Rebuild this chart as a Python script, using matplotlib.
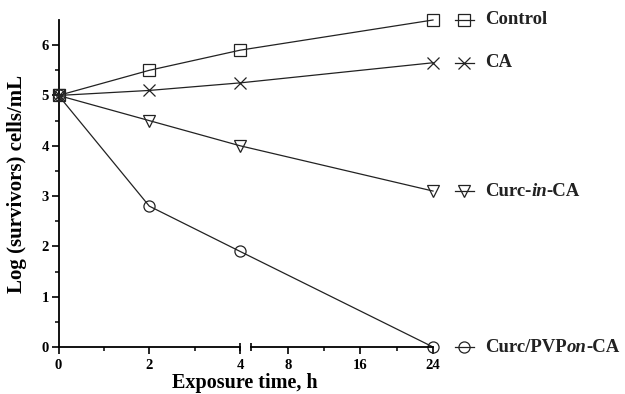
import numpy as np
import matplotlib
matplotlib.use("Agg")
import matplotlib.pyplot as plt
from matplotlib.transforms import blended_transform_factory

plt.rcParams['font.family'] = 'Liberation Serif'
plt.rcParams['font.weight'] = 'bold'

# datos
horas = [0, 2, 4, 24]
control = [5.0, 5.5, 5.9, 6.5]
ca = [5.0, 5.1, 5.25, 5.65]
curc_in = [5.0, 4.5, 4.0, 3.1]
curc_pvp = [5.0, 2.8, 1.9, 0.0]

ticks_x = [0, 2, 4, 8, 16, 24]
ticks_x_menor = [1, 3, 12, 20]


# eje x partido: 0-4 normal, despues de 4 comprimido
def adelante(t):
    t = np.asarray(t, dtype=float)
    return np.where(t <= 4, t, 4.25 + (t - 4) * 0.2)


def atras(u):
    u = np.asarray(u, dtype=float)
    return np.where(u <= 4, u, np.maximum(4 + (u - 4.25) / 0.2, 4))


color = '#222222'

fig = plt.figure(figsize=(6.25, 3.94), dpi=100)
ax = fig.add_axes([58.5 / 625, 1 - 347 / 394, 374.5 / 625, 327 / 394])
ax.set_xscale('function', functions=(adelante, atras))
ax.set_xlim(0, 24)
ax.set_ylim(0, 6.5)

series = [
    (control, 's', 8),
    (ca, 'x', 9),
    (curc_in, 'v', 8),
    (curc_pvp, 'o', 8),
]
for valores, marca, tam in series:
    ax.plot(horas, valores, color=color, lw=0.9, marker=marca, ms=tam,
            mfc='none', mec=color, mew=0.9, clip_on=False, zorder=3)

# spines
ax.spines['top'].set_visible(False)
ax.spines['right'].set_visible(False)
ax.spines['bottom'].set_visible(False)
ax.spines['left'].set_linewidth(1.3)
ax.plot([0, 4], [0, 0], color='k', lw=1.3, clip_on=False, zorder=4)
ax.plot([4.0001, 24], [0, 0], color='k', lw=1.3, clip_on=False, zorder=4)
ax.plot([4, 4.0001], [0, 0], ls='none', marker='|', ms=6, mew=1.2,
        color='k', clip_on=False, zorder=4)

ax.set_xticks(ticks_x)
ax.set_xticks(ticks_x_menor, minor=True)
ax.set_xticklabels([str(t) for t in ticks_x])
ax.set_yticks(range(7))
ax.set_yticks(np.arange(0.5, 6.5, 1), minor=True)
ax.tick_params(which='major', direction='out', length=5, width=1.2,
               labelsize=10.5, pad=2)
ax.tick_params(which='minor', direction='out', length=3, width=1.1)
ax.tick_params(axis='x', which='major', pad=3.5)

ax.set_ylabel('Log (survivors) cells/mL', fontsize=15, fontweight='bold')
ax.yaxis.set_label_coords(-0.084, 0.5)
ax.set_xlabel('Exposure time, h', fontsize=14.5, fontweight='bold')
ax.xaxis.set_label_coords(0.497, -0.08)

# leyenda al lado de cada serie
trans = blended_transform_factory(ax.transAxes, ax.transData)
etiquetas = [
    [('Control', 'normal')],
    [('CA', 'normal')],
    [('Curc-', 'normal'), ('in', 'italic'), ('-CA', 'normal')],
    [('Curc/PVP', 'normal'), ('on', 'italic'), ('-CA', 'normal')],
]
for (valores, marca, tam), partes in zip(series, etiquetas):
    y = valores[-1]
    ax.plot([1.058, 1.084, 1.110], [y, y, y], transform=trans, color=color,
            lw=0.9, marker=marca, ms=tam, mfc='none', mec=color, mew=0.9,
            markevery=[1], clip_on=False)
    t = ax.text(1.138, y, partes[0][0], transform=trans, va='center',
                ha='left', fontsize=13.5, fontweight='bold', color=color)
    for s, estilo in partes[1:]:
        t = ax.annotate(s, xy=(1, 0), xycoords=t, va='bottom', ha='left',
                        fontsize=13.5, fontweight='bold', fontstyle=estilo,
                        color=color)

fig.savefig('out.png', dpi=100)
